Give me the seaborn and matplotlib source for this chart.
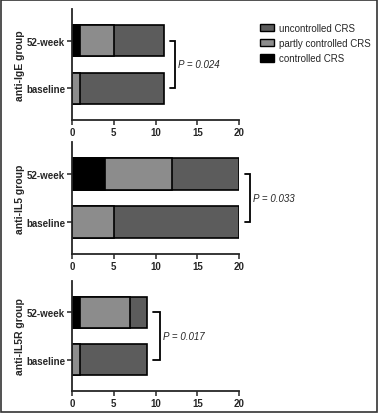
import matplotlib
matplotlib.use("Agg")
import matplotlib.pyplot as plt
import seaborn as sns
import pandas as pd
from matplotlib.patches import Patch, Rectangle

sns.set_style("ticks")
plt.rcParams['font.family'] = ['Liberation Sans', 'DejaVu Sans']

timepoints = ["52-week", "baseline"]
groups = ["anti-IgE group", "anti-IL5 group", "anti-IL5R group"]
controlled = [[1, 0], [4, 0], [1, 0]]
partly = [[4, 1], [8, 5], [6, 1]]
uncontrolled = [[6, 10], [8, 15], [2, 8]]
p_values = ["P = 0.024", "P = 0.033", "P = 0.017"]
legend_labels = ["uncontrolled CRS", "partly controlled CRS", "controlled CRS"]

col_unc = "#5c5c5c"
col_part = "#8c8c8c"
col_ctrl = "#000000"

W, H = 378, 414
fig = plt.figure(figsize=(W / 100, H / 100), dpi=100)

# axes pixel boxes: (top, bottom)
boxes = [(10, 121), (143, 255), (282, 392)]
x_left, x_right = 72, 239
bracket_x = [12.3, 21.3, 10.5]
bracket_tick = [0.6, 0.6, 0.8]

for i, (top, bot) in enumerate(boxes):
    ax = fig.add_axes([x_left / W, 1 - bot / H, (x_right - x_left) / W, (bot - top) / H])
    c = controlled[i]
    p = partly[i]
    u = uncontrolled[i]
    total = [c[k] + p[k] + u[k] for k in range(2)]
    cp = [c[k] + p[k] for k in range(2)]
    layers = [(total, col_unc), (cp, col_part), (c, col_ctrl)]
    for vals, col in layers:
        df = pd.DataFrame({"value": vals, "time": timepoints})
        sns.barplot(data=df, x="value", y="time", orient="h", color=col,
                    saturation=1, edgecolor="black", linewidth=1.2,
                    width=0.65, ax=ax, errorbar=None)
    ax.set_xlim(0, 20)
    ax.set_ylim(1.66, -0.66)
    ax.set_xticks([0, 5, 10, 15, 20])
    ax.set_xlabel("")
    ax.set_ylabel(groups[i], fontsize=7.5, fontweight="bold")
    ax.yaxis.set_label_coords(-0.281, 0.5)
    sns.despine(ax=ax)
    for s in ["left", "bottom"]:
        ax.spines[s].set_linewidth(1.3)
    ax.tick_params(axis="both", labelsize=7, width=1.1, length=3.5, pad=1.5)
    for lab in ax.get_xticklabels() + ax.get_yticklabels():
        lab.set_fontweight("bold")
    # bracket
    bx = bracket_x[i]
    t = bracket_tick[i]
    ax.plot([bx - t, bx, bx, bx - t], [0, 0, 1, 1], color="black", lw=1.3,
            clip_on=False, solid_joinstyle="miter")
    ax.text(bx + 0.35, 0.5, p_values[i], fontsize=7, fontstyle="italic",
            va="center", ha="left", clip_on=False)

handles = [Patch(facecolor=col_unc, edgecolor="black", linewidth=1.0),
           Patch(facecolor=col_part, edgecolor="black", linewidth=1.0),
           Patch(facecolor=col_ctrl, edgecolor="black", linewidth=1.0)]
fig.legend(handles, legend_labels, loc="upper left",
           bbox_to_anchor=(251 / W, 1 - 15 / H), frameon=False, fontsize=7,
           handlelength=1.5, handleheight=0.8, labelspacing=0.55, handletextpad=0.45)

fig.patches.append(Rectangle((1 / W, 1 / H), (W - 2) / W, (H - 2) / H,
                             transform=fig.transFigure, fill=False,
                             edgecolor="#333333", linewidth=1.2))

fig.savefig("out.png", dpi=100)
